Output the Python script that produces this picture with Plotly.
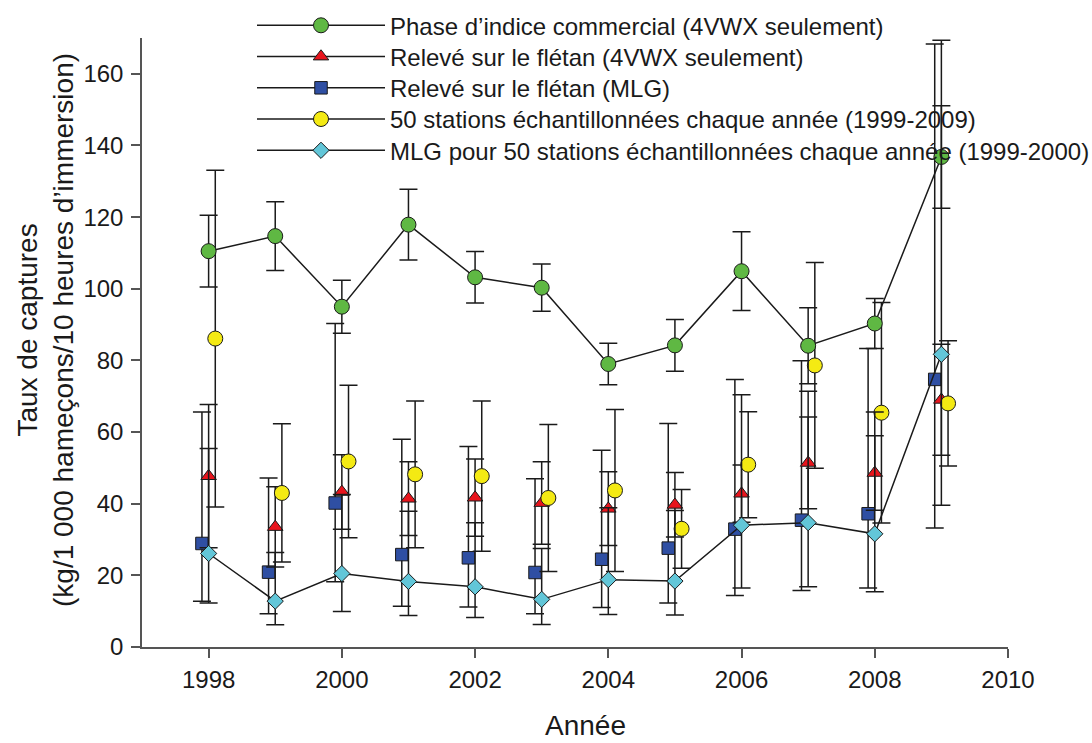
import plotly.graph_objects as go
import numpy as np

# ---------------- data ----------------
years = [1998, 1999, 2000, 2001, 2002, 2003, 2004, 2005, 2006, 2007, 2008, 2009]

# Phase d'indice commercial (4VWX seulement)  -- mean +/- symmetric error
comm_vals = [110.5, 114.7, 95.0, 117.9, 103.2, 100.3, 79.0, 84.2, 104.9, 84.1, 90.3, 136.8]
comm_err = [10.0, 9.6, 7.4, 9.9, 7.2, 6.6, 5.8, 7.2, 11.0, 10.6, 7.0, 14.3]

rel4_vals = [47.7, 33.5, 43.3, 41.4, 41.7, 40.2, 38.6, 39.7, 42.8, 51.4, 48.6, 69.0]
rel4_err = [20.0, 11.2, 10.4, 10.3, 10.8, 11.5, 10.3, 9.0, 8.0, 12.8, 10.4, 15.5]

mlg_vals = [28.9, 20.9, 40.2, 25.8, 24.9, 20.8, 24.5, 27.6, 32.9, 35.4, 37.2, 74.7]
mlg_upper = [65.6, 47.2, 90.3, 58.0, 56.0, 47.0, 54.9, 62.4, 74.7, 79.9, 83.3, 168.3]
mlg_lower = [12.8, 9.3, 18.2, 11.4, 11.2, 9.3, 11.0, 12.3, 14.4, 15.8, 16.5, 33.2]

# 50 stations échantillonnées chaque année (1999-2009)
st50_vals = [86.1, 43.0, 51.8, 48.2, 47.7, 41.6, 43.7, 33.0, 50.9, 78.6, 65.4, 68.0]
st50_err = [47.0, 19.3, 21.3, 20.5, 21.0, 20.5, 22.6, 11.0, 14.8, 28.7, 30.8, 17.5]

# MLG pour 50 stations échantillonnées chaque année -- asymmetric limits
mlg50_vals = [26.1, 12.8, 20.5, 18.3, 16.8, 13.3, 18.8, 18.4, 34.0, 34.7, 31.6, 81.7]
mlg50_upper = [55.4, 26.4, 42.6, 37.9, 34.7, 27.5, 38.9, 38.1, 70.4, 71.4, 65.6, 169.4]
mlg50_lower = [12.3, 6.2, 9.9, 8.8, 8.2, 6.3, 9.1, 8.9, 16.5, 16.8, 15.4, 39.6]

names = [
    "Phase d\u2019indice commercial (4VWX seulement)",
    "Relevé sur le flétan (4VWX seulement)",
    "Relevé sur le flétan (MLG)",
    "50 stations échantillonnées chaque année (1999-2009)",
    "MLG pour 50 stations échantillonnées chaque année (1999-2000)",
]

x_ticks = [1998, 2000, 2002, 2004, 2006, 2008, 2010]
y_ticks = [0, 20, 40, 60, 80, 100, 120, 140, 160]

# ---------------- styles ----------------
W, H = 1092, 743
FONT = "Liberation Sans, Arial, sans-serif"
TXT = "#1a1a1a"
EDGE = "#1a1a1a"
AX = "#555555"
C_GREEN = "#5fb843"
C_RED = "#e8141c"
C_BLUE = "#2f4fa3"
C_YEL = "#f4ea13"
C_CYAN = "#62c6d8"
OFF = 0.1

yrs = np.array(years, dtype=float)


def eb_sym(err):
    return dict(type="data", array=err, symmetric=True, color=EDGE, thickness=1.5, width=9)


def eb_asym(vals, up, lo):
    v = np.array(vals)
    return dict(type="data", array=list(np.array(up) - v), arrayminus=list(v - np.array(lo)),
                symmetric=False, color=EDGE, thickness=1.5, width=9)


def mk(symbol, color, size):
    return dict(symbol=symbol, color=color, size=size, line=dict(color=EDGE, width=1))


fig = go.Figure()

# data traces (drawing order)
fig.add_trace(go.Scatter(x=yrs - OFF, y=mlg_vals, mode="markers", marker=mk("square", C_BLUE, 12.5),
                         error_y=eb_asym(mlg_vals, mlg_upper, mlg_lower), showlegend=False))
fig.add_trace(go.Scatter(x=yrs, y=rel4_vals, mode="markers", marker=mk("triangle-up", C_RED, 13.5),
                         error_y=eb_sym(rel4_err), showlegend=False))
fig.add_trace(go.Scatter(x=yrs + OFF, y=st50_vals, mode="markers", marker=mk("circle", C_YEL, 15),
                         error_y=eb_sym(st50_err), showlegend=False))
fig.add_trace(go.Scatter(x=yrs, y=comm_vals, mode="lines+markers", marker=mk("circle", C_GREEN, 15),
                         line=dict(color=EDGE, width=1.5),
                         error_y=eb_sym(comm_err), showlegend=False))
fig.add_trace(go.Scatter(x=yrs, y=mlg50_vals, mode="lines+markers", marker=mk("diamond", C_CYAN, 12.5),
                         line=dict(color=EDGE, width=1.5),
                         error_y=eb_asym(mlg50_vals, mlg50_upper, mlg50_lower), showlegend=False))

# legend entries: one legend per row so the row spacing matches
leg_specs = [("circle", C_GREEN, 15), ("triangle-up", C_RED, 13.5), ("square", C_BLUE, 12.5),
             ("circle", C_YEL, 15), ("diamond", C_CYAN, 12.5)]
row_y = [25.7, 56.9, 88.2, 119.4, 150.7]
legend_layouts = {}
for i, (nm, (sym, col, sz)) in enumerate(zip(names, leg_specs)):
    key = "legend" if i == 0 else f"legend{i + 1}"
    fig.add_trace(go.Scatter(x=[None], y=[None], mode="lines+markers", name=nm, legend=key,
                             marker=mk(sym, col, sz), line=dict(color=EDGE, width=1.5)))
    legend_layouts[key] = dict(x=(252 - 142) / 866, xanchor="left", yref="container",
                               y=1 - row_y[i] / H, yanchor="middle",
                               bgcolor="rgba(0,0,0,0)", borderwidth=0, itemwidth=128,
                               font=dict(family=FONT, size=24, color=TXT))

fig.update_layout(
    width=W, height=H,
    margin=dict(l=142, r=84, t=38, b=96, autoexpand=False),
    paper_bgcolor="white", plot_bgcolor="white",
    font=dict(family=FONT, color=TXT),
    showlegend=True,
    xaxis=dict(range=[1997, 2010], tickvals=x_ticks, ticks="outside", ticklen=9, tickwidth=1.5,
               tickcolor=AX, showline=True, linecolor=AX, linewidth=1.5,
               showgrid=False, zeroline=False, tickfont=dict(size=24, family=FONT, color=TXT),
               ticklabelstandoff=1),
    yaxis=dict(range=[0, 170], tickvals=y_ticks, ticks="outside", ticklen=9, tickwidth=1.5,
               tickcolor=AX, showline=True, linecolor=AX, linewidth=1.5,
               showgrid=False, zeroline=False, tickfont=dict(size=24, family=FONT, color=TXT),
               ticklabelstandoff=3),
    annotations=[
        dict(text="Année", xref="paper", yref="paper", x=(544 - 142) / 866, y=-(742 - 647) / 609,
             xanchor="left", yanchor="bottom", borderpad=0,
             showarrow=False, font=dict(size=28, family=FONT, color=TXT)),
        dict(text="Taux de captures<br>(kg/1 000 hameçons/10 heures d\u2019immersion)",
             xref="paper", yref="paper", x=(45 - 142) / 866, y=(647 - 330) / 609,
             xanchor="center", yanchor="middle",
             textangle=-90, showarrow=False, font=dict(size=28, family=FONT, color=TXT)),
    ],
)
fig.update_layout(**legend_layouts)

fig.write_html("out.html", config={"displayModeBar": False},
               post_script="document.body.style.margin='0px';")
